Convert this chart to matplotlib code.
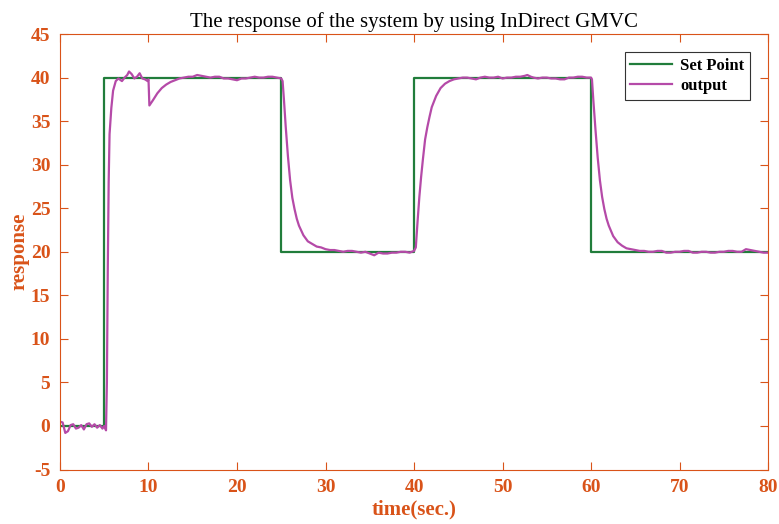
import numpy as np
import matplotlib
matplotlib.use('Agg')
from matplotlib import pyplot as plt

# set point (piecewise constant, steps-post)
sp_t = [0, 5, 25, 40, 60, 80]
sp_v = [0, 40, 20, 40, 20, 20]

# system output
out_t = [0, 0.3, 0.6, 0.9, 1.2, 1.5, 1.8, 2.1, 2.4, 2.7, 3.0, 3.3, 3.6, 3.9,
         4.2, 4.5, 4.8, 5.0, 5.2,
         5.3, 5.4, 5.5, 5.6, 5.8, 6.0, 6.3, 6.6, 7.0, 7.3, 7.6, 7.8, 8.1, 8.4,
         8.7, 9.0, 9.3, 9.6, 9.9, 10.0,
         10.1, 10.5, 11.0, 11.5, 12.0, 12.5, 13.0, 13.5, 14.0, 14.5, 15.0,
         15.5, 16.0, 16.5, 17.0, 17.5, 18.0, 18.5, 19.0, 19.5, 20.0, 20.5,
         21.0, 21.5, 22.0, 22.5, 23.0, 23.5, 24.0, 24.5, 25.0,
         25.15, 25.3, 25.5, 25.75, 26.0, 26.25, 26.5, 26.75, 27.0, 27.5, 28.0,
         28.5, 29.0, 29.5, 30.0, 30.5, 31.0, 31.5, 32.0, 32.5, 33.0, 33.5,
         34.0, 34.5, 35.0, 35.5, 36.0, 36.5, 37.0, 37.5, 38.0, 38.5, 39.0,
         39.5, 40.0,
         40.2, 40.4, 40.6, 40.8, 41.0, 41.25, 41.5, 41.75, 42.0, 42.5, 43.0,
         43.5, 44.0, 44.5, 45.0, 45.5, 46.0, 46.5, 47.0, 47.5, 48.0, 48.5,
         49.0, 49.5, 50.0, 50.5, 51.0, 51.5, 52.0, 52.5, 52.8, 53.2, 53.5,
         54.0, 54.5, 55.0, 55.5, 56.0, 56.5, 57.0, 57.5, 58.0, 58.5, 59.0,
         59.5, 60.0,
         60.1, 60.25, 60.5, 60.75, 61.0, 61.25, 61.5, 61.75, 62.0, 62.5, 63.0,
         63.5, 64.0, 64.5, 65.0, 65.5, 66.0, 66.5, 67.0, 67.5, 68.0, 68.5,
         69.0, 69.5, 70.0, 70.5, 71.0, 71.5, 72.0, 72.5, 73.0, 73.5, 74.0,
         74.5, 75.0, 75.5, 76.0, 76.5, 77.0, 77.5, 78.0, 78.5, 79.0, 79.5, 80.0]
out_v = [0.5, 0.4, -0.8, -0.6, 0.1, 0.2, -0.3, -0.2, 0.1, -0.4, 0.2, 0.3, -0.1, 0.2,
         -0.2, 0.1, -0.3, 0.0, -0.5,
         5.0, 18.0, 28.0, 33.5, 36.5, 38.5, 39.6, 39.9, 39.6, 40.0, 40.3, 40.7, 40.4, 39.9,
         40.1, 40.5, 39.9, 39.8, 39.6, 39.8,
         36.8, 37.4, 38.2, 38.8, 39.2, 39.5, 39.7, 39.9, 40.0, 40.1, 40.1,
         40.3, 40.2, 40.1, 40.0, 40.1, 40.1, 39.9, 39.9, 39.8, 39.7, 39.9,
         39.9, 40.0, 40.1, 40.0, 40.0, 40.1, 40.1, 40.0, 39.9,
         39.6, 37.5, 34.4, 31.0, 28.2, 26.2, 24.9, 23.8, 23.0, 21.9, 21.2,
         20.9, 20.6, 20.5, 20.3, 20.2, 20.2, 20.1, 20.0, 20.1, 20.1, 20.0,
         19.9, 20.0, 19.8, 19.6, 19.9, 19.8, 19.8, 19.9, 19.9, 20.0, 20.0,
         19.9, 20.1,
         20.5, 23.5, 26.3, 28.6, 30.6, 32.9, 34.3, 35.5, 36.6, 37.9, 38.8,
         39.3, 39.6, 39.8, 39.9, 40.0, 40.0, 39.9, 39.8, 40.0, 40.1, 40.0,
         40.0, 40.1, 39.9, 40.0, 40.0, 40.1, 40.1, 40.2, 40.3, 40.1, 40.0,
         39.9, 40.0, 40.0, 39.9, 39.9, 39.8, 39.8, 40.0, 40.0, 40.1, 40.1,
         40.0, 40.0,
         39.8, 37.5, 34.0, 30.8, 28.2, 26.3, 24.9, 23.8, 23.0, 21.8, 21.1,
         20.7, 20.4, 20.3, 20.2, 20.1, 20.1, 20.0, 20.0, 20.1, 20.1, 19.9,
         19.9, 20.0, 20.0, 20.1, 20.1, 19.9, 19.9, 20.0, 20.0, 19.9, 19.9,
         20.0, 20.0, 20.1, 20.1, 20.0, 20.0, 20.3, 20.2, 20.1, 20.0, 19.9, 19.9]

axis_col = '#D95319'
plt.rcParams['font.family'] = ['Liberation Serif', 'DejaVu Serif']
plt.rcParams['axes.unicode_minus'] = False

fig = plt.figure(figsize=(7.79, 5.24), dpi=100)
ax = fig.add_axes([0.077, 0.104, 0.909, 0.831])

ax.plot(sp_t, sp_v, drawstyle='steps-post', color='#217D3B', lw=1.6, label='Set Point')
ax.plot(out_t, out_v, color='#B54AA8', lw=1.6, label='output')

ax.set_xlim(0, 80)
ax.set_ylim(-5, 45)
ax.set_xticks(np.arange(0, 81, 10))
ax.set_yticks(np.arange(-5, 46, 5))
ax.tick_params(direction='in', top=True, right=True, length=6, width=0.8,
               colors=axis_col, labelsize=14, pad=7)
for lab in ax.get_xticklabels() + ax.get_yticklabels():
    lab.set_fontweight('bold')
for sp in ax.spines.values():
    sp.set_color(axis_col)
    sp.set_linewidth(0.8)

ax.set_xlabel('time(sec.)', fontsize=15, fontweight='bold', color=axis_col, labelpad=2)
ax.set_ylabel('response', fontsize=15, fontweight='bold', color=axis_col, labelpad=1)
ax.set_title('The response of the system by using InDirect GMVC', fontsize=15, pad=5)

leg = ax.legend(loc='upper right', bbox_to_anchor=(0.975, 0.959), borderaxespad=0,
                fancybox=False, edgecolor='#333333', framealpha=1, handlelength=2.5,
                prop={'weight': 'bold', 'size': 12}, borderpad=0.35,
                labelspacing=0.25, handletextpad=0.5)
leg.get_frame().set_linewidth(0.8)

fig.savefig('out.png', dpi=100)
